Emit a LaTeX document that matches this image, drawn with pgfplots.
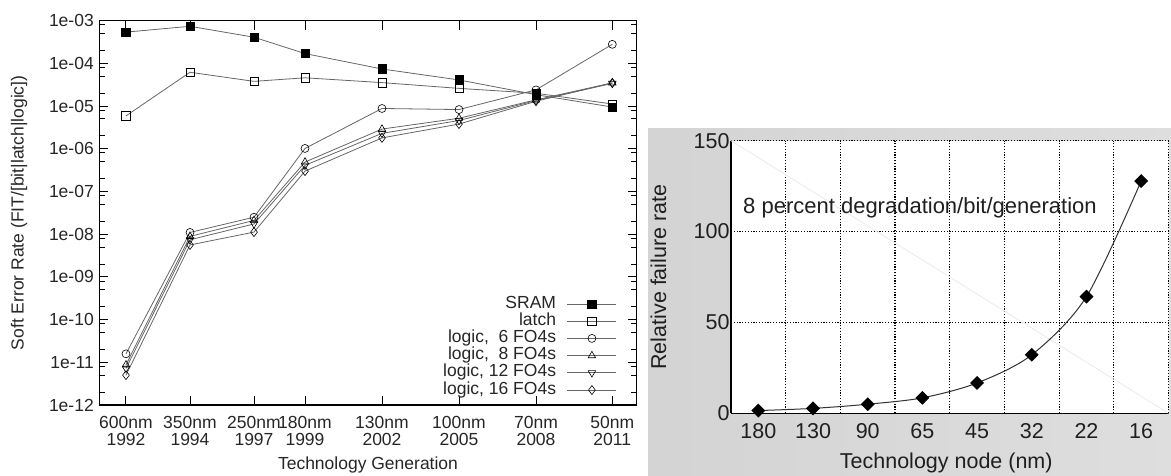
\documentclass[border=0pt]{standalone}
\usepackage{fontspec}
\setmainfont{Liberation Sans}
\usepackage{pgfplots}
\pgfplotsset{compat=1.18}
\newcommand{\lfont}{\fontsize{17.5}{16.7}\selectfont}
\newcommand{\rfont}{\fontsize{21.5}{24}\selectfont}
\begin{document}
\begin{tikzpicture}[x=1pt,y=1pt]
\path[use as bounding box] (0,0) rectangle (1171,476);
\shade[left color=black!17, middle color=black!3, right color=black!13] (648,0) rectangle (1171,347);
% ---------------- left panel ----------------
\begin{axis}[
  at={(99.3pt,71pt)}, anchor=south west,
  scale only axis, width=537.4pt, height=384.3pt,
  ymode=log, ymin=1e-12, ymax=1e-3,
  xmin=99.3, xmax=636.7,
  axis line style={black, line width=1.2pt},
  tick align=inside,
  tick style={black, line width=1pt},
  major tick length=9pt, minor tick length=5.5pt,
  xtick={126,190,254,305,382,459,536,612.3},
  xticklabels={{600nm\\1992},{350nm\\1994},{250nm\\1997},{180nm\\1999},{130nm\\2002},{100nm\\2005},{70nm\\2008},{50nm\\2011}},
  xticklabel style={font=\lfont, align=center, text=black!85, yshift=-8pt},
  ytick={1e-12,1e-11,1e-10,1e-9,1e-8,1e-7,1e-6,1e-5,1e-4,1e-3},
  yticklabels={1e-12,1e-11,1e-10,1e-09,1e-08,1e-07,1e-06,1e-05,1e-04,1e-03},
  minor ytick={2e-12,5e-12,8e-12,2e-11,5e-11,8e-11,2e-10,5e-10,8e-10,2e-9,5e-9,8e-9,2e-8,5e-8,8e-8,2e-7,5e-7,8e-7,2e-6,5e-6,8e-6,2e-5,5e-5,8e-5,2e-4,5e-4,8e-4},
  yticklabel style={font=\lfont, text=black!85, xshift=-2pt},
  xlabel={Technology Generation},
  ylabel={Soft Error Rate (FIT/[bit|latch|logic])},
  every axis x label/.style={at={(axis description cs:0.5,-0.156)}, anchor=center, font=\lfont, text=black!85},
  every axis y label/.style={at={(axis description cs:-0.149,0.5)}, anchor=center, rotate=90, font=\lfont, text=black!85},
  legend plot pos=right,
  legend cell align=right,
  legend image code/.code={\draw[mark repeat=2,mark phase=2,#1] plot coordinates {(0pt,0pt) (24.5pt,0pt) (49pt,0pt)};},
  legend style={draw=none, fill=none, at={(axis description cs:0.9634,0.0161)}, anchor=south east,
    font=\lfont, text=black!85, inner sep=0pt, column sep=11pt, row sep=0pt,
    nodes={inner sep=0pt, text height=12.7pt, text depth=4.5pt}},
  every axis plot/.append style={line width=0.8pt, black!60},
]
\addplot[mark=square*, mark size=4.2pt, mark options={solid, fill=black, draw=black, line width=0.6pt}]
  coordinates {(126,5.4e-4) (190,7.4e-4) (254,4.1e-4) (305,1.7e-4) (382,7.4e-5) (459,4.1e-5) (536,1.85e-5) (612.3,9.5e-6)};
\addlegendentry{SRAM}
\addplot[mark=square, mark size=4.2pt, mark options={solid, draw=black, fill=white, line width=0.6pt}]
  coordinates {(126,5.9e-6) (190,6.2e-5) (254,3.8e-5) (305,4.6e-5) (382,3.55e-5) (459,2.6e-5) (536,2.0e-5) (612.3,1.12e-5)};
\addlegendentry{latch}
\addplot[mark=o, mark size=4pt, mark options={solid, draw=black, fill=white, line width=0.6pt}]
  coordinates {(126,1.58e-11) (190,1.1e-8) (254,2.5e-8) (305,1.02e-6) (382,8.8e-6) (459,8.3e-6) (536,2.4e-5) (612.3,2.8e-4)};
\addlegendentry{logic,\ \ 6 FO4s}
\addplot[mark=triangle, mark size=4.3pt, mark options={solid, draw=black, fill=white, line width=0.6pt}]
  coordinates {(126,8.7e-12) (190,8.9e-9) (254,2.1e-8) (305,4.9e-7) (382,2.9e-6) (459,5.2e-6) (536,1.4e-5) (612.3,3.5e-5)};
\addlegendentry{logic,\ \ 8 FO4s}
\addplot[mark=triangle, mark size=4.3pt, mark options={solid, draw=black, fill=white, line width=0.6pt, rotate=180}]
  coordinates {(126,7.2e-12) (190,7.4e-9) (254,1.74e-8) (305,4.1e-7) (382,2.3e-6) (459,4.6e-6) (536,1.35e-5) (612.3,3.4e-5)};
\addlegendentry{logic, 12 FO4s}
\addplot[mark=diamond, mark size=4.5pt, mark options={solid, draw=black, fill=white, line width=0.6pt}]
  coordinates {(126,5.0e-12) (190,5.6e-9) (254,1.12e-8) (305,3.0e-7) (382,1.8e-6) (459,3.8e-6) (536,1.3e-5) (612.3,3.5e-5)};
\addlegendentry{logic, 16 FO4s}
\end{axis}
% ---------------- right panel ----------------
\begin{axis}[
  at={(731pt,62.7pt)}, anchor=south west,
  scale only axis, width=437.5pt, height=272.6pt,
  xmin=-0.5, xmax=7.5, ymin=0, ymax=150,
  axis background/.style={fill=white},
  axis x line=bottom, axis y line=left,
  axis line style={-, black, line width=1.4pt},
  major tick length=0pt, minor tick length=0pt,
  xtick={0,1,2,3,4,5,6,7},
  xticklabels={180,130,90,65,45,32,22,16},
  minor xtick={0.5,1.5,2.5,3.5,4.5,5.5,6.5,7.5},
  ytick={0,50,100,150},
  yticklabels={0,50,100,150},
  xminorgrids, ymajorgrids,
  grid style={black, line width=1.2pt, dash pattern=on 1.2pt off 1.6pt},
  minor grid style={black, line width=1.2pt, dash pattern=on 1.2pt off 1.6pt},
  xticklabel style={font=\rfont, text=black!88, yshift=-7pt},
  yticklabel style={font=\rfont, text=black!88, xshift=2pt},
  xlabel={Technology node (nm)},
  ylabel={Relative failure rate},
  every axis x label/.style={at={(axis description cs:0.492,-0.181)}, anchor=center, font=\rfont, text=black!88},
  every axis y label/.style={at={(axis description cs:-0.166,0.5)}, anchor=center, rotate=90, font=\rfont, text=black!88},
  clip=false,
]
\addplot[black!8, line width=0.8pt] coordinates {(-0.5,150) (7.5,0)};
\addplot[black!80, line width=1pt, smooth, mark=square*, mark size=4.4pt,
  mark options={solid, rotate=45, fill=black, draw=black}]
  coordinates {(0,1.5) (1,2.7) (2,5) (3,8.5) (4,16.7) (5,32.2) (6,64.2) (7,127.8)};
\node[anchor=west, font=\fontsize{22}{24}\selectfont, text=black!88, inner sep=0pt] at (axis cs:-0.28,112.8) {8 percent degradation/bit/generation};
\end{axis}
\end{tikzpicture}
\end{document}
